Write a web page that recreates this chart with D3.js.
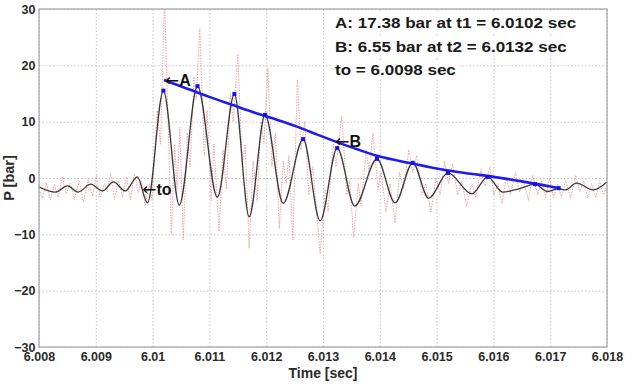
<!DOCTYPE html>
<html>
<head>
<meta charset="utf-8">
<script src="https://cdn.jsdelivr.net/npm/d3@7"></script>
<style>
body { margin: 0; background: #fff; }
svg { display: block; font-family: "Liberation Sans", Arial, sans-serif; }
</style>
</head>
<body>
<div class="canvas"></div>
<script>
// raw pressure trace (red dotted)
var rawT = [6.00800, 6.00806, 6.00813, 6.00820, 6.00827, 6.00834, 6.00841, 6.00848, 6.00855, 6.00862,
	6.00871, 6.00878, 6.00887, 6.00894, 6.00901, 6.00908, 6.00915, 6.00920, 6.00926, 6.00933,
	6.00940, 6.00947, 6.00954, 6.00961, 6.00968, 6.00975, 6.00980, 6.00987, 6.00994, 6.00999,
	6.01008, 6.01014, 6.01021, 6.01033, 6.01039, 6.01043, 6.01048, 6.01054, 6.01061, 6.01066,
	6.01073, 6.01077, 6.01083, 6.01091, 6.01096, 6.01103, 6.01108, 6.01117, 6.01124, 6.01130,
	6.01137, 6.01142, 6.01150, 6.01158, 6.01163, 6.01170, 6.01177, 6.01184, 6.01191, 6.01196,
	6.01203, 6.01210, 6.01216, 6.01223, 6.01230, 6.01235, 6.01240, 6.01247, 6.01255, 6.01261,
	6.01268, 6.01275, 6.01282, 6.01295, 6.01304, 6.01309, 6.01318, 6.01323, 6.01333, 6.01342,
	6.01347, 6.01354, 6.01362, 6.01367, 6.01376, 6.01381, 6.01388, 6.01397, 6.01402, 6.01411,
	6.01418, 6.01427, 6.01435, 6.01442, 6.01451, 6.01458, 6.01465, 6.01474, 6.01481, 6.01490,
	6.01499, 6.01506, 6.01514, 6.01521, 6.01528, 6.01537, 6.01544, 6.01553, 6.01562, 6.01569,
	6.01578, 6.01585, 6.01594, 6.01601, 6.01608, 6.01615, 6.01623, 6.01630, 6.01639, 6.01646,
	6.01653, 6.01662, 6.01669, 6.01678, 6.01685, 6.01692, 6.01699, 6.01706, 6.01713, 6.01720,
	6.01727, 6.01736, 6.01745, 6.01752, 6.01759, 6.01766, 6.01773, 6.01780, 6.01787, 6.01794,
	6.01800];
var rawP = [-2.0, -3.6, -0.8, -3.9, -1.2, -3.4, 0.2, -2.8, -0.9, -3.8,
	-0.6, -4.2, -0.3, -3.2, 0.4, -3.6, -1.0, -2.4, 0.9, -3.8,
	-0.4, -3.4, 0.2, -3.8, 0.8, -2.6, -0.4, -5.0, -1.0, -4.0,
	12, 6, 32, -10, 6, -2, 9, -11, 8, 2,
	18, 14, 26.5, 4, 12, -4, 6, -9.5, 5, -2,
	15, 10, 22, 2, 6, -12.5, 3, -4, 10, 6,
	19.5, 2, 8, -9, 3, -1, 4, -11, 17.5, 5,
	10, -3, 2, -13.5, -2, -6, 6, 2, 11, -3,
	-0.5, -10.5, -1, -5, 5, 1, 8, -2, 1, -6,
	-1, -8, 1, -2, 5, 1, 4, -3, -1, -6,
	0, -3, 3, -1, 2.5, -3, -0.5, -5, -1, -3.5,
	1.5, -1.5, 2, -3, -1, -4.5, 0, -3, 1, -2.5,
	-0.5, -4, 0.5, -3, -0.5, -3.5, 0, -3.5, -1, -3.5,
	-0.5, -3.5, 0.5, -2.5, -0.5, -3.5, -1, -3.5, -0.5, -3,
	-1.5];

// filtered pressure (black), turning points
var filtT = [6.00800, 6.00829, 6.00850, 6.00869, 6.00891, 6.00912, 6.00931, 6.00952, 6.00973, 6.00991,
	6.01019, 6.01047, 6.01079, 6.01114, 6.01144, 6.01170, 6.01198, 6.01230, 6.01265, 6.01295,
	6.01325, 6.01356, 6.01395, 6.01427, 6.01458, 6.01486, 6.01520, 6.01562, 6.01590, 6.01616,
	6.01646, 6.01673, 6.01695, 6.01715, 6.01727, 6.01746, 6.01776, 6.01800];
var filtP = [-1.6, -2.5, -1.4, -2.5, -1.1, -2.3, -0.7, -2.3, 0.2, -4.4,
	15.5, -4.8, 16.3, -3.4, 14.9, -6.9, 11.2, -4.5, 6.9, -7.6,
	5.3, -5.0, 3.4, -4.4, 2.7, -3.6, 0.9, -2.8, 0.2, -2.5,
	-1.9, -1.1, -2.4, -1.9, -2.1, -0.9, -2.1, -0.7];

// detected peaks (blue dots)
var peakT = [6.01019, 6.01079, 6.01144, 6.01198, 6.01265, 6.01325, 6.01395, 6.01458, 6.01520, 6.01590, 6.01673, 6.01715];
var peakP = [15.5, 16.3, 14.9, 11.2, 6.9, 5.3, 3.4, 2.7, 0.9, 0.2, -1.1, -1.8];

// decay fit (blue line)
var fitT = [6.0102, 6.0106, 6.0110, 6.0114, 6.0118, 6.0122, 6.0126, 6.0129, 6.0132, 6.0136,
	6.0140, 6.0145, 6.0150, 6.0155, 6.0160, 6.0165, 6.0170, 6.01715];
var fitP = [17.38, 15.9, 14.4, 13.0, 11.6, 10.3, 8.9, 7.7, 6.55, 5.1,
	3.8, 2.7, 1.7, 0.9, 0.2, -0.6, -1.5, -1.8];

// point labels
var markLabels = ["A", "B", "to"];
var markT = [6.0102, 6.0132, 6.0098];
var markP = [17.38, 6.55, -2.0];

var infoLines = ["A: 17.38 bar at t1 = 6.0102 sec", "B: 6.55 bar at t2 = 6.0132 sec", "to = 6.0098 sec"];

var xTicks = [6.008, 6.009, 6.010, 6.011, 6.012, 6.013, 6.014, 6.015, 6.016, 6.017, 6.018];
var xTickLabels = ["6.008", "6.009", "6.01", "6.011", "6.012", "6.013", "6.014", "6.015", "6.016", "6.017", "6.018"];
var yTicks = [-30, -20, -10, 0, 10, 20, 30];

// set up svg
var width = 625, height = 384;
var plotL = 39, plotR = 607, plotT = 9, plotB = 347;

var svg = d3.select('.canvas').append('svg')
	.attr('width', width)
	.attr('height', height);

var x = d3.scaleLinear().domain([6.008, 6.018]).range([plotL, plotR]);
var y = d3.scaleLinear().domain([-30, 30]).range([plotB, plotT]);

svg.append('clipPath').attr('id', 'plotclip')
	.append('rect')
	.attr('x', plotL).attr('y', plotT)
	.attr('width', plotR - plotL).attr('height', plotB - plotT);

// grid
var gx = svg.append('g')
	.attr('transform', 'translate(0,' + plotB + ')')
	.call(d3.axisBottom(x).tickValues(xTicks).tickSize(-(plotB - plotT)).tickFormat(''));
var gy = svg.append('g')
	.attr('transform', 'translate(' + plotL + ',0)')
	.call(d3.axisLeft(y).tickValues(yTicks).tickSize(-(plotR - plotL)).tickFormat(''));
[gx, gy].forEach(function (g) {
	g.select('.domain').remove();
	g.selectAll('line')
		.attr('stroke', '#c4c4c4')
		.attr('stroke-width', 1)
		.attr('stroke-dasharray', '1.5,2');
});

// info text with white background per line
var info = svg.append('g');
infoLines.forEach(function (s, i) {
	var bg = info.append('rect').attr('fill', '#fff');
	var t = info.append('text')
		.attr('x', 335)
		.attr('y', 28 + i * 23.5)
		.attr('font-size', '15.5px')
		.attr('font-weight', 'bold')
		.attr('fill', '#1a1a1a')
		.text(s);
	t.attr('textLength', t.node().getComputedTextLength() * 1.1)
		.attr('lengthAdjust', 'spacingAndGlyphs');
	var bb = t.node().getBBox();
	bg.attr('x', bb.x - 3).attr('y', bb.y - 1)
		.attr('width', bb.width + 6).attr('height', bb.height + 2);
});

// series
var plot = svg.append('g').attr('clip-path', 'url(#plotclip)');

var rawLine = d3.line()
	.x(function (d, i) { return x(rawT[i]); })
	.y(function (d) { return y(d); });
plot.append('path')
	.attr('d', rawLine(rawP))
	.attr('fill', 'none')
	.attr('stroke', '#f4a0a0')
	.attr('stroke-width', 1)
	.attr('stroke-dasharray', '1.5,1.2');

var filtLine = d3.line()
	.x(function (d, i) { return x(filtT[i]); })
	.y(function (d) { return y(d); })
	.curve(d3.curveMonotoneX);
plot.append('path')
	.attr('d', filtLine(filtP))
	.attr('fill', 'none')
	.attr('stroke', '#383838')
	.attr('stroke-width', 1.3);

var fitLine = d3.line()
	.x(function (d, i) { return x(fitT[i]); })
	.y(function (d) { return y(d); })
	.curve(d3.curveMonotoneX);
plot.append('path')
	.attr('d', fitLine(fitP))
	.attr('fill', 'none')
	.attr('stroke', '#1c1cf0')
	.attr('stroke-width', 2.6);

plot.selectAll('rect.peak')
	.data(peakP)
	.enter()
	.append('rect')
	.classed('peak', true)
	.attr('x', function (d, i) { return x(peakT[i]) - 2; })
	.attr('y', function (d) { return y(d) - 2; })
	.attr('width', 4)
	.attr('height', 4)
	.attr('fill', '#1010f0');

// point labels: arrow + letter
markLabels.forEach(function (s, i) {
	var t = svg.append('text')
		.attr('x', x(markT[i]) + 1)
		.attr('y', y(markP[i]))
		.attr('dy', '0.36em')
		.attr('font-size', '16px')
		.attr('fill', '#111');
	t.append('tspan')
		.attr('font-family', 'DejaVu Sans')
		.attr('font-size', '17px')
		.text('\u2190');
	t.append('tspan')
		.attr('font-weight', 'bold')
		.text(s);
});

// frame
svg.append('rect')
	.attr('x', plotL).attr('y', plotT)
	.attr('width', plotR - plotL).attr('height', plotB - plotT)
	.attr('fill', 'none')
	.attr('stroke', '#a9a9a9')
	.attr('stroke-width', 1.3);

// tick labels
var ax = svg.append('g')
	.attr('transform', 'translate(0,' + plotB + ')')
	.call(d3.axisBottom(x).tickValues(xTicks).tickSize(0).tickPadding(5.5)
		.tickFormat(function (d, i) { return xTickLabels[i]; }));
var ay = svg.append('g')
	.attr('transform', 'translate(' + plotL + ',0)')
	.call(d3.axisLeft(y).tickValues(yTicks).tickSize(0).tickPadding(3.5));
[ax, ay].forEach(function (g) {
	g.select('.domain').remove();
	g.selectAll('text')
		.attr('font-family', '"Liberation Sans", Arial, sans-serif')
		.attr('font-size', '12.5px')
		.attr('font-weight', 'bold')
		.attr('fill', '#2a2a2a');
});

// axis titles
svg.append('text')
	.attr('x', (plotL + plotR) / 2)
	.attr('y', 378)
	.attr('text-anchor', 'middle')
	.attr('font-size', '14px')
	.attr('font-weight', 'bold')
	.attr('fill', '#2a2a2a')
	.text('Time [sec]');

svg.append('text')
	.attr('transform', 'translate(14,' + ((plotT + plotB) / 2) + ') rotate(-90)')
	.attr('text-anchor', 'middle')
	.attr('font-size', '14.5px')
	.attr('font-weight', 'bold')
	.attr('fill', '#2a2a2a')
	.text('P [bar]');
</script>
</body>
</html>
